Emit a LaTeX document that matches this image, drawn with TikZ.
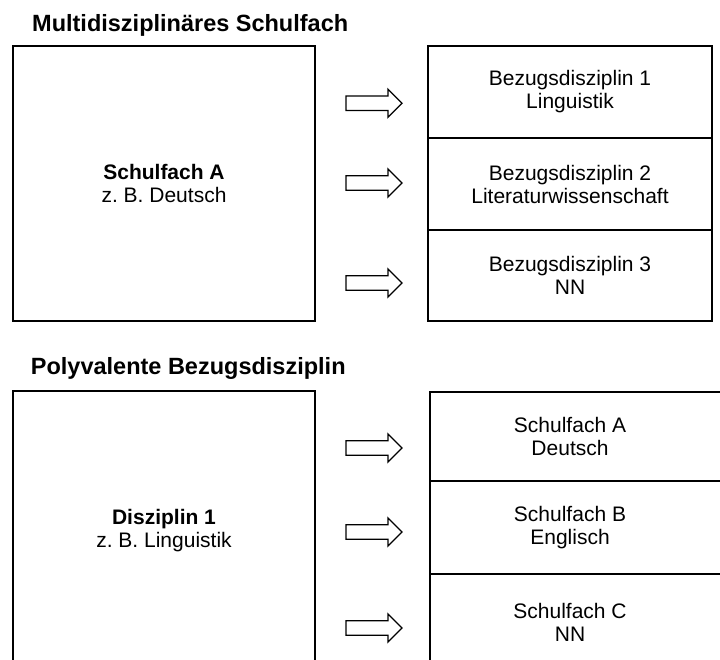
\documentclass[tikz,border=0pt]{standalone}
\usepackage{fontspec}
\setmainfont{Liberation Sans}
\begin{document}
\frenchspacing
\begin{tikzpicture}[x=1pt,y=-1pt,
  heading/.style={anchor=base west, inner sep=0pt, font=\fontsize{23.5}{27}\selectfont\bfseries},
  box/.style={draw, line width=2pt, inner sep=0pt, anchor=north west, align=center,
    font=\fontsize{21}{23}\selectfont},
  barrow/.style={draw, line width=1.3pt, line join=miter, fill=white}]
\useasboundingbox (0,0) rectangle (720,660);
\newcommand{\blockarrow}[1]{%
  \draw[barrow] (346,#1-7.3) -- (388,#1-7.3) -- (388,#1-14) -- (402,#1) -- (388,#1+14) -- (388,#1+7.3) -- (346,#1+7.3) -- cycle;}

% upper section
\node[heading] (t1) at (32,31.7) {Multidisziplinäres Schulfach};
\node[box, minimum width=302, minimum height=275] (a) at (12,45)
  {\textbf{Schulfach A}\\z. B. Deutsch};
\node[box, minimum width=284, minimum height=92] (b1) at (427,45)
  {Bezugsdisziplin 1\\Linguistik};
\node[box, minimum width=284, minimum height=92] (b2) at (427,137)
  {Bezugsdisziplin 2\\Literaturwissenschaft};
\node[box, minimum width=284, minimum height=91] (b3) at (427,229)
  {Bezugsdisziplin 3\\NN};
\blockarrow{103.3}
\blockarrow{183}
\blockarrow{283}

% lower section
\node[heading] (t2) at (30.7,374) {Polyvalente Bezugsdisziplin};
\node[box, minimum width=302, minimum height=280] (d) at (12,390)
  {\textbf{Disziplin 1}\\z. B. Linguistik};
\node[box, minimum width=300, minimum height=89] (s1) at (429,391)
  {\hspace*{-20pt}Schulfach A\\\hspace*{-20pt}Deutsch};
\node[box, minimum width=300, minimum height=93] (s2) at (429,480)
  {\hspace*{-20pt}Schulfach B\\\hspace*{-20pt}Englisch};
\node[box, minimum width=300, minimum height=97] (s3) at (429,573)
  {\hspace*{-20pt}Schulfach C\\\hspace*{-20pt}NN};
\blockarrow{448}
\blockarrow{532}
\blockarrow{628}
\end{tikzpicture}
\end{document}
